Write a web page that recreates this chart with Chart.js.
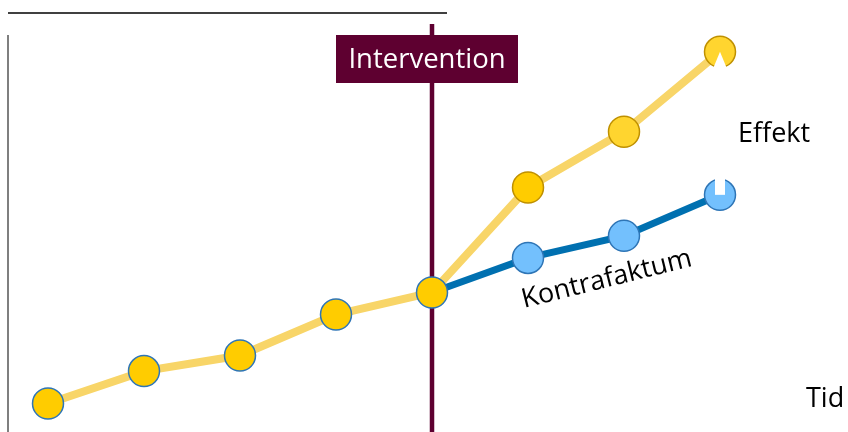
<!DOCTYPE html>
<html>
<head>
<meta charset="utf-8">
<script src="https://cdn.jsdelivr.net/npm/chart.js@4/dist/chart.umd.min.js"></script>
<style>
  html, body { margin: 0; padding: 0; background: #fff; }
  #wrap { width: 848px; height: 432px; }
</style>
</head>
<body>
<div id="wrap"><canvas id="effektChart"></canvas></div>
<script>
const periods = [1, 2, 3, 4, 5, 6, 7, 8]
const interventionAt = 5
// observerat utfall (gul)
const effektValues = [6.6, 14.1, 17.7, 27.2, 32.3, 56.6, 69.5, 88.0]
// kontrafaktum (blå), startar vid interventionen
const kontrafaktumValues = [null, null, null, null, 32.3, 40.3, 45.4, 54.9]
const labelTexts = { intervention: 'Intervention', effekt: 'Effekt', kontra: 'Kontrafaktum', tid: 'Tid' }

const FONT = '"Open Sans", "Noto Sans", sans-serif'
const MAROON = '#5E0030'

const ctx = document.getElementById('effektChart').getContext('2d')

const toPoints = vals => periods.map((p, i) => ({ x: p, y: vals[i] }))

const decorPlugin = {
    id: 'decor',
    beforeDatasetsDraw(chart) {
        const c = chart.ctx
        const xs = chart.scales.x
        const ix = xs.getPixelForValue(interventionAt)
        c.save()
        // top rule and left axis
        c.strokeStyle = '#000'
        c.lineWidth = 1.3
        c.beginPath(); c.moveTo(8, 13); c.lineTo(447, 13); c.stroke()
        c.strokeStyle = '#555'
        c.lineWidth = 1.5
        c.beginPath(); c.moveTo(8, 35); c.lineTo(8, 432); c.stroke()
        // intervention line
        c.strokeStyle = MAROON
        c.lineWidth = 4.5
        c.beginPath(); c.moveTo(ix, 24); c.lineTo(ix, 432); c.stroke()
        // label box
        c.fillStyle = MAROON
        c.fillRect(ix - 96, 35, 182, 48)
        c.fillStyle = '#fff'
        c.font = '27.5px ' + FONT
        c.textAlign = 'center'
        c.textBaseline = 'middle'
        c.fillText(labelTexts.intervention, ix - 5, 60)
        c.restore()
    },
    afterDatasetsDraw(chart) {
        const c = chart.ctx
        const yEl = chart.getDatasetMeta(0).data
        const bEl = chart.getDatasetMeta(1).data
        const yl = yEl[yEl.length - 1]
        const bl = bEl[bEl.length - 1]
        c.save()
        // notches on the last points
        c.fillStyle = '#fff'
        c.beginPath()
        c.moveTo(yl.x, yl.y)
        c.lineTo(yl.x - 7, yl.y + 17)
        c.lineTo(yl.x + 7, yl.y + 17)
        c.closePath()
        c.fill()
        c.fillRect(bl.x - 5, bl.y - 17, 10, 17)
        // texts
        c.fillStyle = '#000'
        c.font = '27px ' + FONT
        c.textBaseline = 'alphabetic'
        c.textAlign = 'left'
        c.fillText(labelTexts.effekt, 738, 142)
        c.fillText(labelTexts.tid, 806, 407)
        const k = bEl[5]
        c.translate(k.x - 4, k.y + 50)
        c.rotate(-14 * Math.PI / 180)
        c.fillText(labelTexts.kontra, 0, 0)
        c.restore()
    }
}

const yellowFill = ['#FFCC00', '#FFCC00', '#FFCC00', '#FFCC00', '#FFCC00', '#FFCC00', '#FFD52F', '#FFD52F']
const yellowBorder = ['#2E75B6', '#2E75B6', '#2E75B6', '#2E75B6', '#2E75B6', '#BF9000', '#BF9000', '#BF9000']

new Chart(ctx, {
    type: 'line',
    data: {
        datasets: [
            {
                label: labelTexts.effekt,
                data: toPoints(effektValues),
                borderColor: '#F8D568',
                borderWidth: 8,
                pointRadius: 15.5,
                pointBorderWidth: 1.5,
                pointBackgroundColor: yellowFill,
                pointBorderColor: yellowBorder,
                tension: 0,
                clip: false
            },
            {
                label: labelTexts.kontra,
                data: toPoints(kontrafaktumValues),
                borderColor: '#0070B0',
                borderWidth: 7,
                pointRadius: periods.map((p, i) => i < 5 ? 0 : 15.5),
                pointBorderWidth: 1.5,
                pointBackgroundColor: '#73C0FD',
                pointBorderColor: '#2E75B6',
                tension: 0,
                spanGaps: false,
                clip: false
            }
        ]
    },
    options: {
        responsive: true,
        maintainAspectRatio: false,
        animation: false,
        layout: { padding: 0, autoPadding: false },
        plugins: {
            legend: { display: false },
            tooltip: { enabled: false }
        },
        scales: {
            x: { type: 'linear', min: 0.5, max: 9.3333, display: false },
            y: { min: 0, max: 100, display: false }
        }
    },
    plugins: [decorPlugin]
})
</script>
</body>
</html>
